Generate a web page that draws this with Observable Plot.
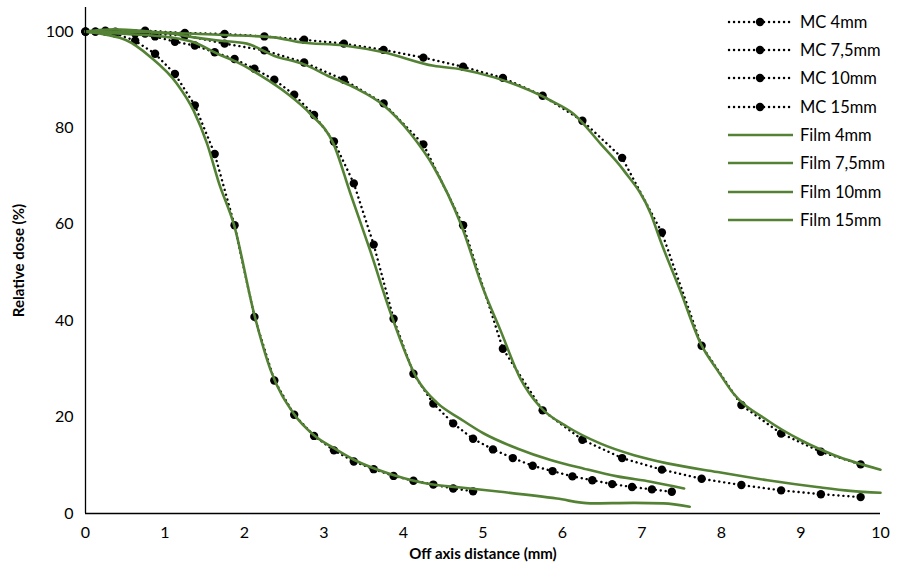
<!DOCTYPE html>
<html><head><meta charset="utf-8">
<script src="https://cdn.jsdelivr.net/npm/d3@7"></script>
<script src="https://cdn.jsdelivr.net/npm/@observablehq/plot@0.6"></script>
<style>
body{margin:0;background:#fff;}
#wrap{position:relative;width:914px;height:570px;font-family:Lato,"Open Sans",sans-serif;}
#legend{position:absolute;left:0;top:0;font-size:16.5px;color:#000;}
.lrow{position:absolute;left:727px;height:20px;display:flex;align-items:center;white-space:nowrap;}
.lrow svg{margin-right:6px;}
g[aria-label="x-axis label"] text, g[aria-label="y-axis label"] text{font-weight:bold;font-size:15px;}
</style></head><body><div id="wrap"></div>
<script>
// ---- data ----
const xTicks = [0,1,2,3,4,5,6,7,8,9,10];
const yTicks = [0,20,40,60,80,100];

const mc4X = [0,0.125,0.375,0.625,0.875,1.125,1.375,1.625,1.875,2.125,2.375,2.625,2.875,3.125,3.375,3.625,3.875,4.125,4.375,4.625,4.875];
const mc4Y = [100,100,99.6,98.1,95.4,91.2,84.7,74.6,59.8,40.8,27.6,20.5,16.1,13.1,10.8,9.2,7.8,6.8,6.0,5.2,4.6];

const mc75X = [0,0.125,0.375,0.625,0.875,1.125,1.375,1.625,1.875,2.125,2.375,2.625,2.875,3.125,3.375,3.625,3.875,4.125,4.375,4.625,4.875,5.125,5.375,5.625,5.875,6.125,6.375,6.625,6.875,7.125,7.375];
const mc75Y = [100,100,100,99.6,99.0,97.9,97.1,95.7,94.3,92.3,90.0,86.9,82.7,77.2,68.5,55.8,40.4,29.0,22.8,18.7,15.5,13.3,11.5,9.9,8.8,7.7,6.9,6.1,5.5,5.0,4.5];

const mc10X = [0,0.25,0.75,1.25,1.75,2.25,2.75,3.25,3.75,4.25,4.75,5.25,5.75,6.25,6.75,7.25,7.75,8.25,8.75,9.25,9.75];
const mc10Y = [100,100,99.6,99.2,97.5,96.1,93.6,90.0,85.1,76.6,59.8,34.2,21.4,15.3,11.5,9.1,7.2,5.9,4.8,4.0,3.4];

const mc15X = [0,0.25,0.75,1.25,1.75,2.25,2.75,3.25,3.75,4.25,4.75,5.25,5.75,6.25,6.75,7.25,7.75,8.25,8.75,9.25,9.75];
const mc15Y = [100,100.2,100.2,99.7,99.5,99.0,98.3,97.5,96.2,94.6,92.7,90.4,86.7,81.5,73.8,58.3,34.8,22.5,16.6,12.8,10.2];

const film4X = [0,0.5,0.82,1.15,1.36,1.53,1.68,1.87,2.12,2.33,2.62,2.87,3.12,3.37,3.87,4.37,4.72,5.22,5.93,6.35,6.9,7.27,7.6];
const film4Y = [100,98.3,94.7,89.2,83.6,76.7,68.5,59.8,41.5,29.7,20.7,16.3,13.6,11.2,8.0,6.0,5.4,4.5,3.1,2.1,2.2,2.1,1.4];

const film75X = [0,0.52,1.07,1.36,1.66,1.95,2.2,2.54,2.83,3.12,3.33,3.58,3.84,4.17,4.42,4.72,5.01,5.43,5.85,6.27,6.69,7.11,7.53];
const film75Y = [100,99.5,98.8,97.8,95.4,93.3,90.9,87.1,82.9,76.7,66.5,54.6,41.5,28.0,23.0,19.6,16.6,13.5,11.1,9.3,7.7,6.6,5.2];

const film10X = [0,0.5,1.07,1.36,1.7,2.03,2.37,2.75,3.04,3.37,3.75,4.09,4.38,4.72,5.01,5.22,5.47,5.72,6.06,6.48,6.9,7.32,7.95,8.58,9.2,9.62,10];
const film10Y = [100,100,99.6,98.8,98.1,97.5,95.0,93.2,90.9,88.5,84.7,78.8,71.9,60.1,46.3,38.0,28.0,22.1,18.0,14.5,12.1,10.4,8.6,6.9,5.5,4.7,4.3];

const film15X = [0,0.36,0.98,1.74,2.37,2.7,3.25,3.75,4.38,4.72,5.14,5.85,6.14,6.48,6.77,7.11,7.23,7.48,7.74,7.95,8.15,8.58,9.0,9.42,10];
const film15Y = [100,100.5,99.8,99.3,98.8,97.8,97.1,95.7,92.9,92.2,90.5,85.7,82.9,76.7,71.2,62.2,56.7,46.3,35.2,29.7,24.9,19.3,15.2,12.1,9.1];

const mcNames = ["MC 4mm","MC 7,5mm","MC 10mm","MC 15mm"];
const filmNames = ["Film 4mm","Film 7,5mm","Film 10mm","Film 15mm"];
// ---------------------------------------

const green = "#548235";
const mcSeries = [[mc4X,mc4Y],[mc75X,mc75Y],[mc10X,mc10Y],[mc15X,mc15Y]];
const filmSeries = [[film4X,film4Y],[film75X,film75Y],[film10X,film10Y],[film15X,film15Y]];
const toRows = (list, names) => list.flatMap(([xs, ys], i) => xs.map((x, j) => ({series: names[i], x, y: ys[j]})));
const mcRows = toRows(mcSeries, mcNames);
const filmRows = toRows(filmSeries, filmNames);

const chart = Plot.plot({
  width: 914, height: 570,
  marginLeft: 85, marginRight: 34, marginTop: 7, marginBottom: 57,
  style: {fontFamily: "Lato, 'Open Sans', sans-serif", fontSize: "16px", color: "#000", background: "#fff"},
  x: {domain: [0, 10], ticks: xTicks, tickSize: 0, tickPadding: 13, label: "Off axis distance (mm)", labelAnchor: "center", labelArrow: "none", labelOffset: 45},
  y: {domain: [0, 105], ticks: yTicks, tickSize: 0, tickPadding: 12, label: "Relative dose (%)", labelAnchor: "center", labelArrow: "none", labelOffset: 72},
  marks: [
    Plot.line(mcRows, {x: "x", y: "y", z: "series", stroke: "#000", strokeWidth: 2.4, strokeDasharray: "0.1 4.9", strokeLinecap: "round"}),
    Plot.dot(mcRows, {x: "x", y: "y", r: 4.2, fill: "#000", stroke: "none"}),
    Plot.line(filmRows, {x: "x", y: "y", z: "series", stroke: green, strokeWidth: 2.6, curve: "monotone-x"}),
    Plot.ruleX([0], {stroke: "#000", strokeWidth: 1.3}),
    Plot.ruleY([0], {stroke: "#000", strokeWidth: 1.3})
  ]
});
const wrap = document.getElementById("wrap");
wrap.appendChild(chart);

// legend
const legend = document.createElement("div");
legend.id = "legend";
const names = mcNames.concat(filmNames);
names.forEach((name, i) => {
  const row = document.createElement("div");
  row.className = "lrow";
  row.style.top = (11.7 + i * 28.3) + "px";
  const isMC = i < 4;
  const svg = d3.create("svg").attr("width", 67).attr("height", 20);
  if (isMC) {
    svg.append("line").attr("x1", 2).attr("x2", 65).attr("y1", 10).attr("y2", 10)
      .attr("stroke", "#000").attr("stroke-width", 2.4).attr("stroke-dasharray", "0.1 4.9").attr("stroke-linecap", "round");
    svg.append("circle").attr("cx", 33).attr("cy", 10).attr("r", 4.2).attr("fill", "#000");
  } else {
    svg.append("line").attr("x1", 1).attr("x2", 66).attr("y1", 10).attr("y2", 10)
      .attr("stroke", green).attr("stroke-width", 2.6);
  }
  row.appendChild(svg.node());
  const span = document.createElement("span");
  span.textContent = name;
  row.appendChild(span);
  legend.appendChild(row);
});
wrap.appendChild(legend);
</script>
</body></html>
